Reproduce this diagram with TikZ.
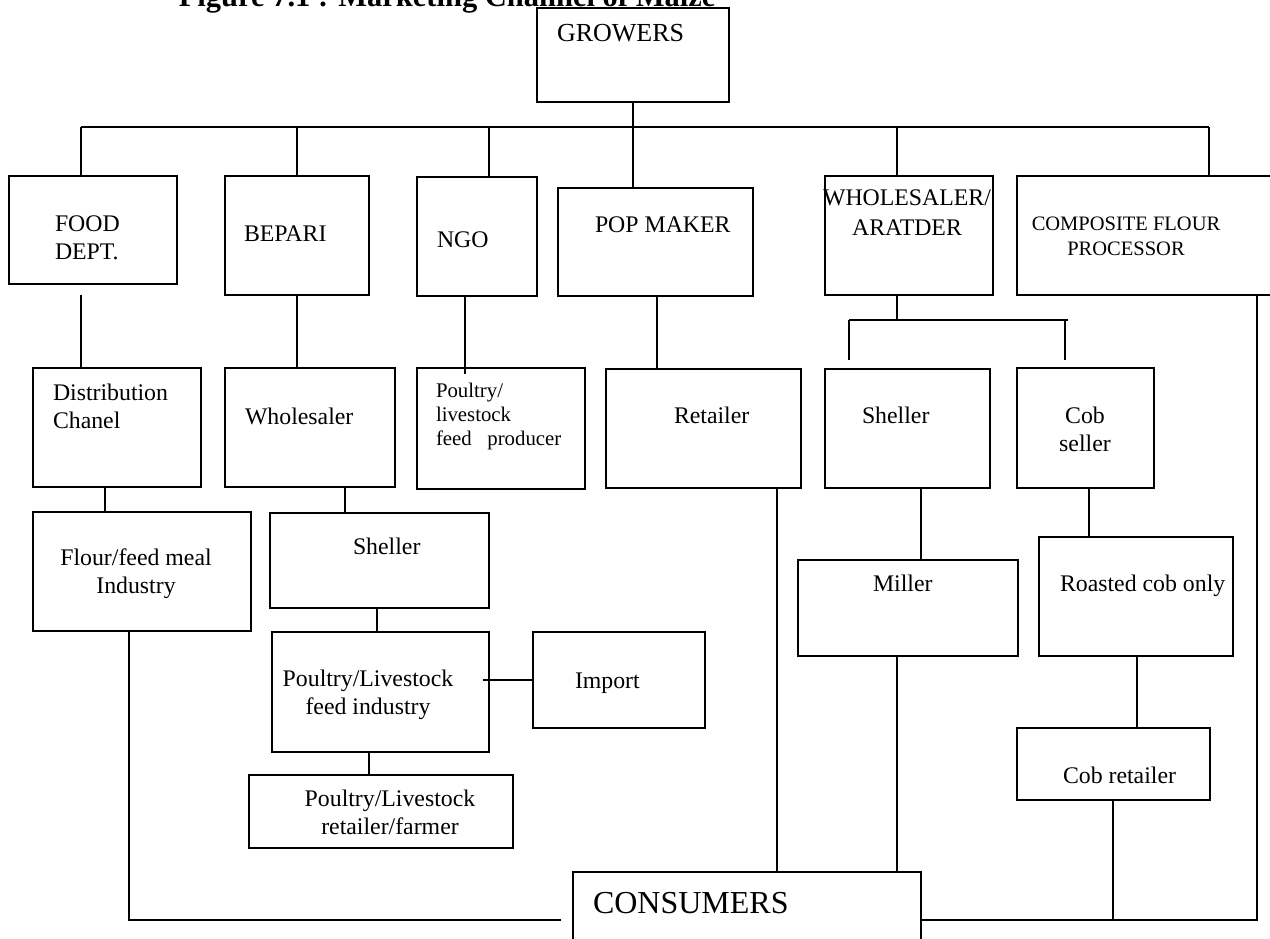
\documentclass[tikz,border=0pt]{standalone}
\usepackage{fontspec}
\setmainfont{Liberation Serif}
\newcommand\mkbox[5]{\node[box, anchor=north west, minimum width={#4-#2}, minimum height={#5-#3}] (#1) at (#2,#3) {};}
\begin{document}
\begin{tikzpicture}[x=1pt, y={(0pt,-1pt)}, line width=1.7pt,
  box/.style={draw, rectangle, inner sep=0pt, outer sep=0pt, line width=1.7pt},
  lbl/.style={inner sep=0pt, outer sep=0pt, font=\fontsize{23.8}{28}\selectfont},
  small/.style={inner sep=0pt, outer sep=0pt, font=\fontsize{20.8}{24}\selectfont},
  big/.style={inner sep=0pt, outer sep=0pt, font=\fontsize{32}{36}\selectfont}]
\useasboundingbox (0,0) rectangle (1270,938);
\clip (0,0) rectangle (1270,938);

% caption
\node[anchor=base west, inner sep=0pt, font=\bfseries\fontsize{30.5}{34}\selectfont] (title) at (178,6) {Figure 7.1 : Marketing Channel of Maize};

% boxes
\mkbox{growers}{537}{8}{729}{102}
\mkbox{food}{9}{176}{177}{284}
\mkbox{bepari}{225}{176}{369}{295}
\mkbox{ngo}{417}{177}{537}{296}
\mkbox{pop}{558}{188}{753}{296}
\mkbox{whole}{825}{176}{993}{295}
\mkbox{comp}{1017}{176}{1290}{295}
\mkbox{distr}{33}{368}{201}{487}
\mkbox{whsl}{225}{368}{395}{487}
\mkbox{feedp}{417}{368}{585}{489}
\mkbox{retail}{606}{369}{801}{488}
\mkbox{shel2}{825}{369}{990}{488}
\mkbox{cobs}{1017}{368}{1154}{488}
\mkbox{flour}{33}{512}{251}{631}
\mkbox{shel1}{270}{513}{489}{608}
\mkbox{pfi}{272}{632}{489}{752}
\mkbox{imp}{533}{632}{705}{728}
\mkbox{prf}{249}{775}{513}{848}
\mkbox{miller}{798}{560}{1018}{656}
\mkbox{roast}{1039}{537}{1233}{656}
\mkbox{cobr}{1017}{728}{1210}{800}
\mkbox{cons}{573}{872}{921}{960}

% labels
\node[lbl, font=\fontsize{26}{30}\selectfont, anchor=base west] (tGrow) at (557,41) {GROWERS};
\node[lbl, anchor=base west] (tFood1) at (55,231) {FOOD};
\node[lbl, anchor=base west] (tFood2) at (55,259) {DEPT.};
\node[lbl, anchor=base west] (tBep) at (244,241) {BEPARI};
\node[lbl, anchor=base west] (tNgo) at (437,247) {NGO};
\node[lbl, anchor=base west] (tPop) at (595,232) {POP MAKER};
\node[lbl, anchor=base] (tWh1) at (907,205) {WHOLESALER/};
\node[lbl, anchor=base] (tWh2) at (907,235) {ARATDER};
\node[lbl, font=\fontsize{20.5}{24}\selectfont, anchor=base] (tComp1) at (1126,230) {COMPOSITE FLOUR};
\node[lbl, font=\fontsize{20.5}{24}\selectfont, anchor=base] (tComp2) at (1126,255) {PROCESSOR};
\node[lbl, anchor=base west] (tDis1) at (53,400) {Distribution};
\node[lbl, anchor=base west] (tDis2) at (53,428) {Chanel};
\node[lbl, anchor=base west] (tWs) at (245,424) {Wholesaler};
\node[small, anchor=base west] (tFp1) at (436,397) {Poultry/};
\node[small, anchor=base west] (tFp2) at (436,421) {livestock};
\node[small, anchor=base west] (tFp3) at (436,445) {feed\ \ \ producer};
\node[lbl, anchor=base west] (tRet) at (674,423) {Retailer};
\node[lbl, anchor=base west] (tSh2) at (862,423) {Sheller};
\node[lbl, anchor=base] (tCob1) at (1085,423) {Cob};
\node[lbl, anchor=base] (tCob2) at (1085,451) {seller};
\node[lbl, anchor=base] (tFl1) at (136,565) {Flour/feed meal};
\node[lbl, anchor=base] (tFl2) at (136,593) {Industry};
\node[lbl, anchor=base west] (tSh1) at (353,554) {Sheller};
\node[lbl, anchor=base] (tPf1) at (368,686) {Poultry/Livestock};
\node[lbl, anchor=base] (tPf2) at (368,714) {feed industry};
\node[lbl, anchor=base west] (tImp) at (575,688) {Import};
\node[lbl, anchor=base] (tPr1) at (390,806) {Poultry/Livestock};
\node[lbl, anchor=base] (tPr2) at (390,834) {retailer/farmer};
\node[lbl, anchor=base west] (tMil) at (873,591) {Miller};
\node[lbl, anchor=base west] (tRoa) at (1060,591) {Roasted cob only};
\node[lbl, anchor=base west] (tCr) at (1063,783) {Cob retailer};
\node[big, anchor=base west] (tCons) at (593,913) {CONSUMERS};

% distribution bus from the growers
\coordinate (bL) at (81,127);
\coordinate (bR) at (1209,127);
\coordinate (tapNgo) at (489,127);
\coordinate (tapWh) at (897,127);
\draw (bL) -- (bR);
\draw (growers.south) -- (growers.south |- pop.north);
\draw (bL) -- (bL |- food.north);
\draw (bepari.north |- bL) -- (bepari.north);
\draw (tapNgo) -- (tapNgo |- ngo.north);
\draw (tapWh) -- (tapWh |- whole.north);
\draw (bR) -- (bR |- comp.north);

% first tier to second tier
\coordinate (fd) at (81,295);
\draw (fd) -- (fd |- distr.north);
\draw (bepari.south) -- (bepari.south |- whsl.north);
\coordinate (nf) at (465,374);
\draw (nf |- ngo.south) -- (nf);
\coordinate (pr) at (657,330);
\draw (pr |- pop.south) -- (pr |- retail.north);
\coordinate (wb) at (897,320);
\coordinate (brL) at (849,320);
\coordinate (brR) at (1068,320);
\coordinate (dL) at (849,360);
\coordinate (dR) at (1065,360);
\draw (wb |- whole.south) -- (wb);
\draw (brL) -- (brR);
\draw (brL) -- (dL);
\draw (dR |- brR) -- (dR);

% lower tiers
\coordinate (df) at (105,500);
\draw (df |- distr.south) -- (df |- flour.north);
\coordinate (ws) at (345,500);
\draw (ws |- whsl.south) -- (ws |- shel1.north);
\coordinate (sp) at (377,620);
\draw (sp |- shel1.south) -- (sp |- pfi.north);
\coordinate (pi) at (483,680);
\draw (pi) -- (pi -| imp.west);
\coordinate (pp) at (369,760);
\draw (pp |- pfi.south) -- (pp |- prf.north);
\coordinate (sm) at (921,520);
\draw (sm |- shel2.south) -- (sm |- miller.north);
\coordinate (cr) at (1089,500);
\draw (cr |- cobs.south) -- (cr |- roast.north);
\coordinate (rr) at (1137,700);
\draw (rr |- roast.south) -- (rr |- cobr.north);

% routes to the consumers
\coordinate (fc) at (129,920);
\coordinate (fcEnd) at (561,920);
\draw (fc |- flour.south) -- (fc) -- (fcEnd);
\coordinate (rc) at (777,700);
\draw (rc |- retail.south) -- (rc |- cons.north);
\coordinate (mc) at (897,700);
\draw (mc |- miller.south) -- (mc |- cons.north);
\coordinate (bus2) at (1257,920);
\draw (cons.east |- bus2) -- (bus2) -- (bus2 |- comp.south);
\coordinate (cb) at (1113,920);
\draw (cb |- cobr.south) -- (cb);
\end{tikzpicture}
\end{document}
